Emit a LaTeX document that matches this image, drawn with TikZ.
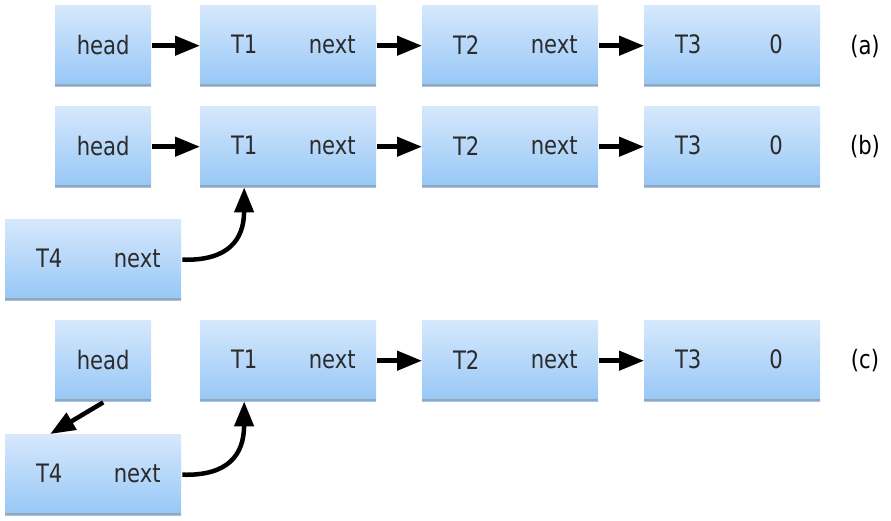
\documentclass[tikz,border=0pt]{standalone}
\usepackage{fontspec}
\usepackage{graphicx}
\setmainfont{DejaVu Sans Condensed}
\usetikzlibrary{arrows.meta}
\definecolor{boxtop}{HTML}{D6E8FC}
\definecolor{boxbot}{HTML}{96C7F6}
\definecolor{boxedge}{HTML}{9BA5AF}
\definecolor{txt}{HTML}{2B2B2B}
\newcommand{\tallt}[1]{\scalebox{1}[1.08]{#1}}
\tikzset{
  cellbox/.style={rectangle, inner sep=0pt, top color=boxtop, bottom color=boxbot, draw=none, minimum height=81pt, anchor=north west},
  wide/.style={cellbox, minimum width=176pt},
  narrow/.style={cellbox, minimum width=96pt},
  lbl/.style={text=txt, font=\fontsize{23.5}{27}\selectfont, inner sep=0pt},
  ptr/.style={line width=4.5pt, -{Triangle[length=25pt,width=19pt]}},
}
\begin{document}
\begin{tikzpicture}[x=1pt,y=-1pt]
\useasboundingbox (0,0) rectangle (891,521);
% row a
\node[narrow] (ha) at (55,5) {};
\node[wide] (a1) at (200,5) {};
\node[wide] (a2) at (422,5) {};
\node[wide] (a3) at (644,5) {};
% row b
\node[narrow] (hb) at (55,106) {};
\node[wide] (b1) at (200,106) {};
\node[wide] (b2) at (422,106) {};
\node[wide] (b3) at (644,106) {};
\node[wide] (b4) at (5,219) {};
% row c
\node[narrow] (hc) at (55,320) {};
\node[wide] (c1) at (200,320) {};
\node[wide] (c2) at (422,320) {};
\node[wide] (c3) at (644,320) {};
\node[wide] (c4) at (5,434) {};
\foreach \n in {ha,a1,a2,a3,hb,b1,b2,b3,b4,hc,c1,c2,c3,c4}
  \draw[boxedge, line width=2.5pt] ([yshift=1.25pt]\n.south west) -- ([yshift=1.25pt]\n.south east);
% texts
\foreach \h in {ha,hb,hc} \node[lbl] (\h t) at ([yshift=1pt]\h.center) {\tallt{head}};
\foreach \r in {a,b,c} {
  \node[lbl] (\r1l) at ([xshift=-44pt,yshift=1pt]\r1.center) {\tallt{T1}};
  \node[lbl] (\r1r) at ([xshift=44pt,yshift=1pt]\r1.center) {\tallt{next}};
  \node[lbl] (\r2l) at ([xshift=-44pt,yshift=1pt]\r2.center) {\tallt{T2}};
  \node[lbl] (\r2r) at ([xshift=44pt,yshift=1pt]\r2.center) {\tallt{next}};
  \node[lbl] (\r3l) at ([xshift=-44pt,yshift=1pt]\r3.center) {\tallt{T3}};
  \node[lbl] (\r3r) at ([xshift=44pt,yshift=1pt]\r3.center) {\tallt{0}};
}
\foreach \r in {b,c} {
  \node[lbl] (\r4l) at ([xshift=-44pt,yshift=1pt]\r4.center) {\tallt{T4}};
  \node[lbl] (\r4r) at ([xshift=44pt,yshift=1pt]\r4.center) {\tallt{next}};
}
\node[lbl, text=black] (la) at (865,47) {\tallt{(a)}};
\node[lbl, text=black] (lb) at (865,147) {\tallt{(b)}};
\node[lbl, text=black] (lc) at (865,361) {\tallt{(c)}};
% arrows
\foreach \r in {a,b} \draw[ptr] ([xshift=1pt]h\r.east) -- (\r1.west);
\foreach \r in {a,b,c} {
  \draw[ptr] ([xshift=1pt]\r1.east) -- (\r2.west);
  \draw[ptr] ([xshift=1pt]\r2.east) -- (\r3.west);
}
\coordinate (b1in) at ([xshift=-44pt]b1.south);
\coordinate (c1in) at ([xshift=-44pt]c1.south);
\draw[ptr] ([xshift=1pt]b4.east) .. controls (228,261) and (244,240) .. (b1in);
\draw[ptr] ([xshift=1pt]c4.east) .. controls (228,476) and (244,455) .. (c1in);
\coordinate (hcout) at ([yshift=-1pt]hc.south);
\coordinate (c4in) at ([xshift=-43pt]c4.north);
\draw[ptr] (hcout) -- (c4in);
\end{tikzpicture}
\end{document}
